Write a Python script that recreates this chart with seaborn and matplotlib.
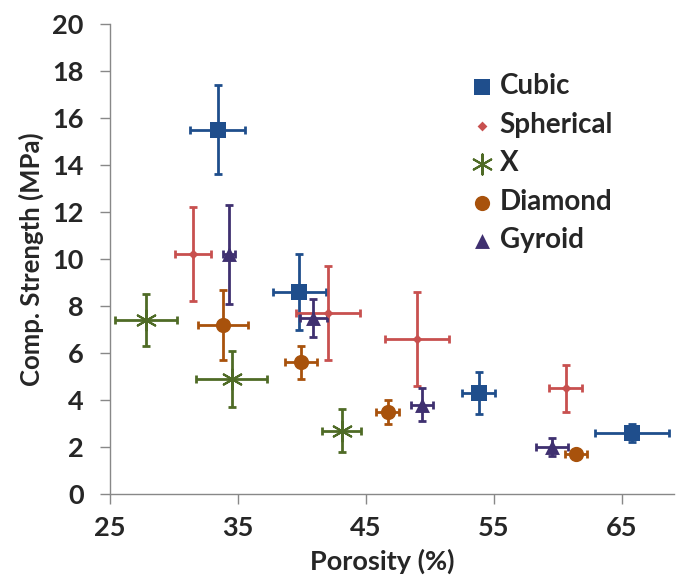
import matplotlib
matplotlib.use("Agg")
import matplotlib.pyplot as plt
import seaborn as sns
import pandas as pd

sns.set_theme(style="white")
plt.rcParams['font.family'] = ['Lato', 'DejaVu Sans']
plt.rcParams['font.weight'] = 'bold'

series = ["Cubic", "Spherical", "X", "Diamond", "Gyroid"]

cubic_x = [33.4, 39.8, 53.8, 65.8]
cubic_y = [15.5, 8.6, 4.3, 2.6]
cubic_xerr = [2.15, 2.05, 1.3, 2.9]
cubic_yerr = [1.9, 1.6, 0.9, 0.4]

spherical_x = [31.5, 42.0, 49.0, 60.6]
spherical_y = [10.2, 7.7, 6.6, 4.5]
spherical_xerr = [1.4, 2.5, 2.5, 1.3]
spherical_yerr = [2.0, 2.0, 2.0, 1.0]

x_x = [27.8, 34.5, 43.1]
x_y = [7.4, 4.9, 2.7]
x_xerr = [2.4, 2.8, 1.55]
x_yerr = [1.1, 1.2, 0.9]

diamond_x = [33.8, 39.9, 46.7, 61.4]
diamond_y = [7.2, 5.6, 3.5, 1.7]
diamond_xerr = [1.95, 1.25, 0.9, 0.85]
diamond_yerr = [1.5, 0.7, 0.5, 0.15]

gyroid_x = [34.3, 40.9, 49.4, 59.5]
gyroid_y = [10.2, 7.5, 3.8, 2.0]
gyroid_xerr = [0.5, 1.05, 0.85, 1.25]
gyroid_yerr = [2.1, 0.8, 0.7, 0.4]

xticks = [25, 35, 45, 55, 65]
yticks = [0, 2, 4, 6, 8, 10, 12, 14, 16, 18, 20]

data = {
    "Cubic": (cubic_x, cubic_y, cubic_xerr, cubic_yerr),
    "Spherical": (spherical_x, spherical_y, spherical_xerr, spherical_yerr),
    "X": (x_x, x_y, x_xerr, x_yerr),
    "Diamond": (diamond_x, diamond_y, diamond_xerr, diamond_yerr),
    "Gyroid": (gyroid_x, gyroid_y, gyroid_xerr, gyroid_yerr),
}
colors = {"Cubic": "#1F4E8C", "Spherical": "#C8504F", "X": "#4F6B26",
          "Diamond": "#A8520C", "Gyroid": "#3F3070"}
markers = {"Cubic": "s", "Spherical": "D", "X": (6, 2, 0), "Diamond": "o", "Gyroid": "^"}
msizes = {"Cubic": 120, "Spherical": 25, "X": 210, "Diamond": 120, "Gyroid": 115}

fig = plt.figure(figsize=(6.76, 5.79), dpi=100)
ax = fig.add_axes([0.1627, 0.1468, 0.835, 0.8117])

for name in series:
    xs, ys, xe, ye = data[name]
    c = colors[name]
    ax.errorbar(xs, ys, xerr=xe, yerr=ye, fmt='none', ecolor=c, elinewidth=2.0,
                capsize=3, capthick=2.0, zorder=2)
    df = pd.DataFrame({"x": xs, "y": ys})
    lw = 1.5 if name == "X" else 0
    sns.scatterplot(data=df, x="x", y="y", ax=ax, color=c, marker=markers[name],
                    s=msizes[name], linewidth=lw, edgecolor=c, label=name, zorder=3)

ax.set_xlim(25, 69.1)
ax.set_ylim(0, 20)
ax.set_xticks(xticks)
ax.set_yticks(yticks)
ax.set_xlabel("Porosity (%)", fontsize=19.5, fontweight='bold')
ax.xaxis.set_label_coords(0.482, -0.117)
ax.set_ylabel("Comp. Strength (MPa)", fontsize=18.5, fontweight='bold', labelpad=6)
ax.tick_params(axis='both', labelsize=19.5, length=7, width=1, color='#888888',
               direction='out', left=True, bottom=True)
ax.tick_params(axis='y', pad=12)
ax.tick_params(axis='x', pad=9)
for lab in ax.get_xticklabels() + ax.get_yticklabels():
    lab.set_fontweight('bold')
for s in ['top', 'right']:
    ax.spines[s].set_visible(False)
for s in ['left', 'bottom']:
    ax.spines[s].set_color('#888888')
    ax.spines[s].set_linewidth(1)

leg = ax.legend(loc='upper left', bbox_to_anchor=(0.640, 0.895), frameon=False,
                fontsize=20, labelspacing=0.45, handletextpad=0.22, handlelength=0.8,
                borderaxespad=0, borderpad=0)
for t in leg.get_texts():
    t.set_fontweight('bold')

fig.savefig("out.png", dpi=100)
